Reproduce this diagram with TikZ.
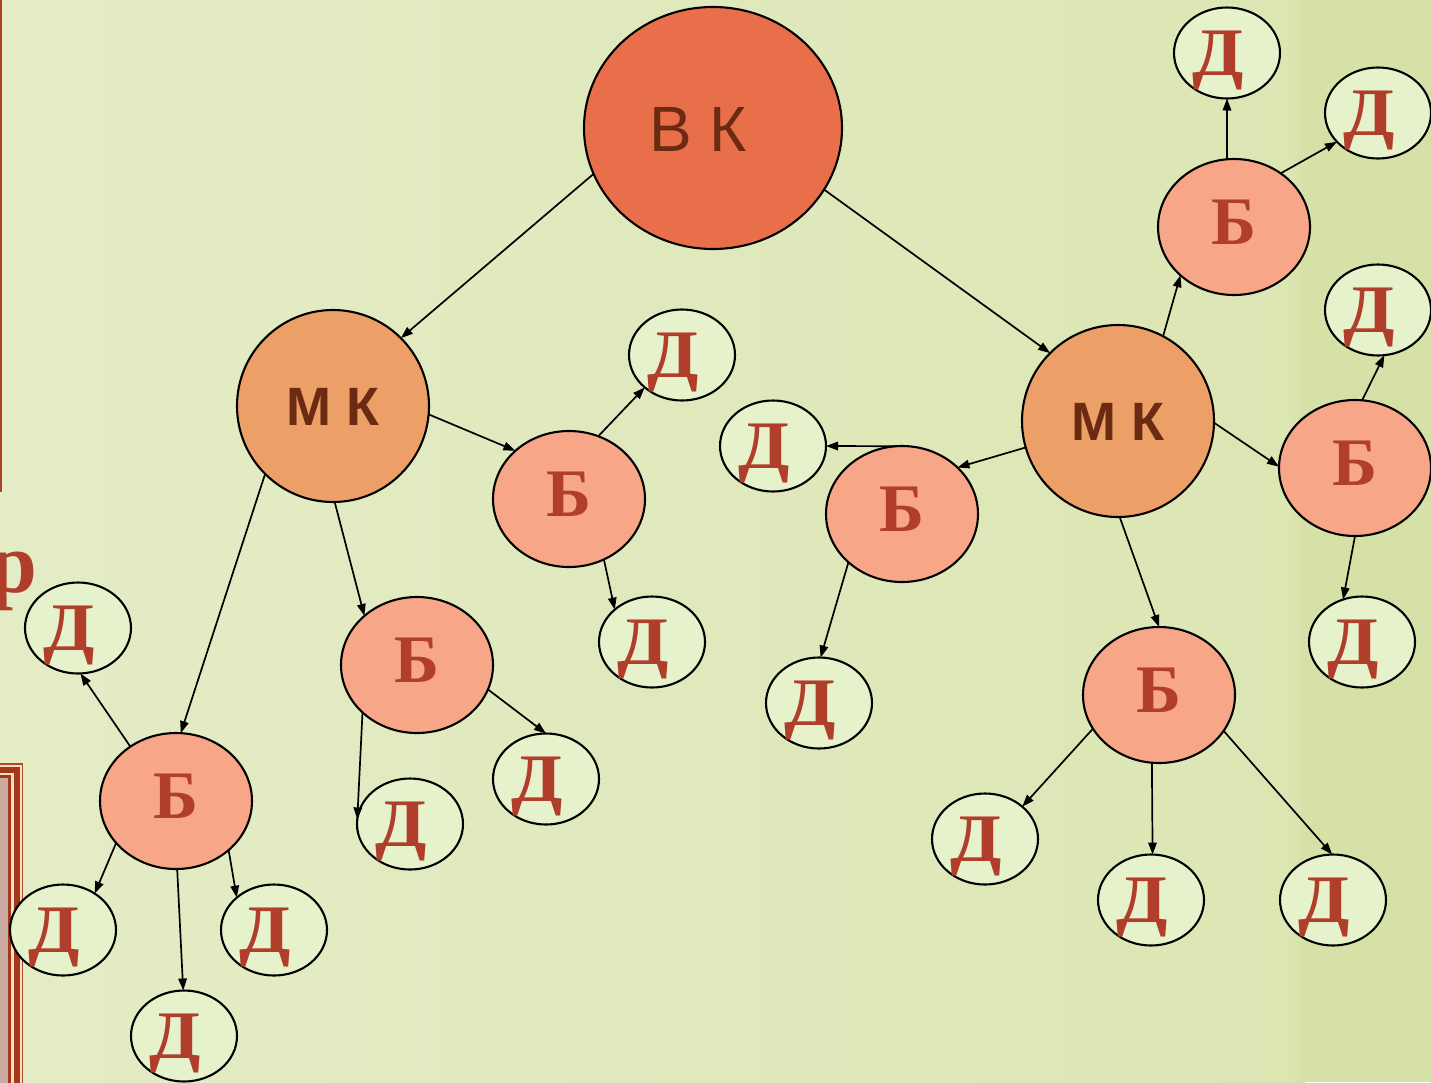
\documentclass[tikz,border=0pt]{standalone}
\usepackage{fontspec}
\setmainfont{Liberation Serif}
\setsansfont{Liberation Sans}
\usetikzlibrary{arrows.meta,shapes.geometric}
\definecolor{bgL}{HTML}{E4ECC6}
\definecolor{bgR}{HTML}{DCE6B3}
\definecolor{bgStrip}{HTML}{D5E1A6}
\definecolor{vkfill}{HTML}{E96F4A}
\definecolor{mkfill}{HTML}{EC9F67}
\definecolor{bfill}{HTML}{F7A688}
\definecolor{dfill}{HTML}{E6F2CC}
\definecolor{letter}{HTML}{B03E2B}
\definecolor{txtdark}{HTML}{6B2A12}
\definecolor{frameA}{HTML}{B8452A}
\definecolor{frameDark}{HTML}{A5371B}
\definecolor{frameCream}{HTML}{EFE2C3}
\definecolor{framePink}{HTML}{CBAAA1}
\newcommand{\dletter}{\kern-18pt\scalebox{1.1}[1]{Д}}
\begin{document}
\begin{tikzpicture}[x=1pt,y=-1pt,
  every node/.style={inner sep=0pt,outer sep=0pt},
  nodeline/.style={ellipse,draw=black,line width=2.1pt},
  vknode/.style={nodeline,fill=vkfill,minimum width=258pt,minimum height=242pt,
    text=txtdark,font=\sffamily\fontsize{64}{70}\selectfont,text height=46pt,text depth=0pt},
  mknode/.style={nodeline,fill=mkfill,minimum width=192pt,minimum height=192pt,
    text=txtdark,font=\sffamily\bfseries\fontsize{54}{60}\selectfont,text height=38.5pt,text depth=0pt},
  bnode/.style={nodeline,fill=bfill,minimum width=152pt,minimum height=136pt,
    text=letter,font=\bfseries\fontsize{68}{74}\selectfont,text height=44.5pt,text depth=10pt},
  dnode/.style={nodeline,fill=dfill,minimum width=106pt,minimum height=91pt,
    text=letter,font=\bfseries\fontsize{68}{74}\selectfont,text height=44pt,text depth=0pt},
  conn/.style={line width=1.7pt,-{Triangle[length=12pt,width=8.5pt]}}
]
\useasboundingbox (0,0) rectangle (1431,1082);
% background
\shade[left color=bgL,right color=bgR] (0,0) rectangle (1300,1082);
\shade[left color=bgR,right color=bgStrip] (1290,0) rectangle (1305,1082);
\fill[bgStrip] (1305,0) rectangle (1431,1082);
% left edge slide elements
\fill[letter] (0,0) rectangle (2.2,492);
\fill[frameA] (-5,763) rectangle (23.3,1090);
\fill[frameCream] (-5,764.7) rectangle (21.7,1090);
\fill[frameDark] (-5,766.5) rectangle (19.5,1090);
\fill[frameCream] (-5,772.5) rectangle (13.5,1090);
\fill[frameDark] (-5,775) rectangle (10.5,1090);
\fill[framePink] (-5,778) rectangle (7.5,1090);
\node[anchor=base east,text=letter,font=\bfseries\fontsize{86}{90}\selectfont] (er) at (37,592) {р};

% main nodes
\node[vknode] (vk) at (713,128) {\kern-30ptВ К};
\node[mknode] (mkl) at (333,406) {М К};
\node[mknode] (mkr) at (1118,421) {М К};

\node[bnode] (b1) at (569,499) {Б};
\node[bnode] (b2) at (417,665) {Б};
\node[bnode] (b3) at (176,801) {Б};
\node[bnode] (b4) at (902,514) {Б};
\node[bnode] (b5) at (1234,227) {Б};
\node[bnode] (b6) at (1355,468) {Б};
\node[bnode] (b7) at (1159,695) {Б};

\node[dnode] (d1) at (1227,53) {\dletter};
\node[dnode] (d2) at (1378,113) {\dletter};
\node[dnode] (d3) at (1378,310) {\dletter};
\node[dnode] (d4) at (682,355) {\dletter};
\node[dnode] (d5) at (773,446) {\dletter};
\node[dnode] (d6) at (78,628) {\dletter};
\node[dnode] (d7) at (652,642) {\dletter};
\node[dnode] (d8) at (1362,642) {\dletter};
\node[dnode] (d9) at (819,703) {\dletter};
\node[dnode] (d10) at (546,779) {\dletter};
\node[dnode] (d11) at (410,824) {\dletter};
\node[dnode] (d12) at (985,839) {\dletter};
\node[dnode] (d13) at (1151,900) {\dletter};
\node[dnode] (d14) at (1333,900) {\dletter};
\node[dnode] (d15) at (63,930) {\dletter};
\node[dnode] (d16) at (274,930) {\dletter};
\node[dnode] (d17) at (184,1036) {\dletter};

% connectors
\draw[conn] (vk.201.5) -- (mkl.45.4);
\draw[conn] (vk.-29.9) -- (mkr.135.4);
\draw[conn] (mkl.-5.7) -- (b1.138.4);
\draw[conn] (mkl.225.4) -- (b3.86.6);
\draw[conn] (mkl.-89.4) -- (b2.137.9);
\draw[conn] (b1.65.8) -- (d4.221);
\draw[conn] (b1.-60.8) -- (d7.139);
\draw[conn] (b2.221.6) -- (d11.175.6);
\draw[conn] (b2.-19.6) -- (d10.90);
\draw[conn] (b3.130.5) -- (d6.-87.5);
\draw[conn] (b3.215.4) -- (d15.49.3);
\draw[conn] (b3.-89) -- (d17.91);
\draw[conn] (b3.-43.4) -- (d16.139);
\draw[conn] (mkr.196.2) -- (b4.40.6);
\draw[conn] (b4.95.9) -- (d5.0);
\draw[conn] (b4.222.2) -- (d9.88.8);
\draw[conn] (mkr.62.9) -- (b5.222.8);
\draw[conn] (b5.96.7) -- (d1.-90);
\draw[conn] (b5.49.5) -- (d2.215.4);
\draw[conn] (mkr.-1.2) -- (b6.179);
\draw[conn] (b6.84) -- (d3.-82);
\draw[conn] (b6.-90) -- (d8.114);
\draw[conn] (mkr.-89.4) -- (b7.90.8);
\draw[conn] (b7.207.2) -- (d12.41);
\draw[conn] (b7.-96.6) -- (d13.88.8);
\draw[conn] (b7.-29.8) -- (d14.91.2);
\end{tikzpicture}
\end{document}
